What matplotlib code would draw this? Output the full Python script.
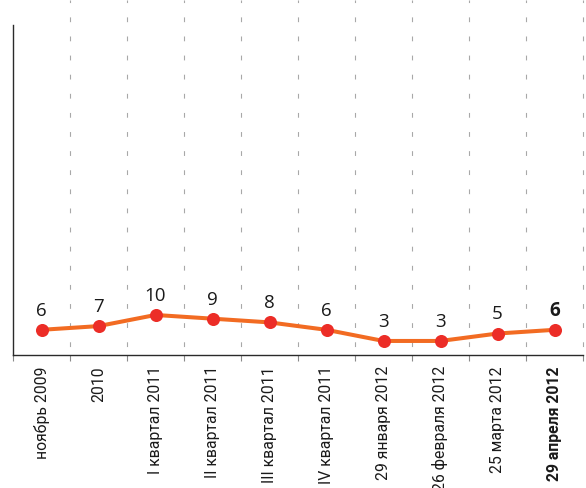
import matplotlib
matplotlib.use("Agg")
import matplotlib.pyplot as plt
import numpy as np

categories = ["ноябрь 2009", "2010", "I квартал 2011", "II квартал 2011",
              "III квартал 2011", "IV квартал 2011", "29 января 2012",
              "26 февраля 2012", "25 марта 2012", "29 апреля 2012"]
values = [6, 7, 10, 9, 8, 6, 3, 3, 5, 6]
value_labels = ["6", "7", "10", "9", "8", "6", "3", "3", "5", "6"]

fig = plt.figure(figsize=(5.86, 4.88), dpi=100)
ax = fig.add_axes([13/586, (488-355)/488, 570/586, 355/488])

x = np.arange(len(categories))
ax.set_xlim(-0.5, len(categories) - 0.5)
ax.set_ylim(-0.78, 94.8)

# dashed separators
for b in np.arange(0.5, len(categories), 1.0):
    ax.plot([b, b], [1.0, 0.0], transform=ax.get_xaxis_transform(),
            color="#a8a8a8", lw=0.8, linestyle=(2.0, (4.3, 12.9)),
            clip_on=False, zorder=1)

ax.plot(x, values, color="#f26b22", lw=2.9, zorder=3, solid_capstyle="round")
ax.plot(x, values, "o", color="#ec2d27", markersize=9.4, zorder=4,
        markeredgewidth=0)

for i, (v, lab) in enumerate(zip(values, value_labels)):
    ax.annotate(lab, (i, v), xytext=(0, 10.2), textcoords="offset points",
                ha="center", va="baseline", fontsize=13.5,
                family=["Open Sans", "DejaVu Sans"],
                fontweight="bold" if i == len(values) - 1 else "normal",
                color="#1a1a1a", zorder=5)

for s in ["top", "right"]:
    ax.spines[s].set_visible(False)
for s in ["left", "bottom"]:
    ax.spines[s].set_color("#2a2a2a")
    ax.spines[s].set_linewidth(1.0)
ax.spines["left"].set_bounds(-0.78, 88)

ax.set_yticks([])
ax.set_xticks(x)
ax.set_xticklabels(categories, rotation=90, fontsize=11.3,
                   family=["Roboto", "DejaVu Sans"],
                   color="#1a1a1a")
ax.get_xticklabels()[-1].set_fontweight("bold")
ax.tick_params(axis="x", which="major", length=0, pad=8)
ax.set_xticks(np.arange(-0.5, len(categories), 1.0), minor=True)
ax.tick_params(axis="x", which="minor", length=4.5, width=0.8,
               color="#8a8a8a", direction="out")

fig.savefig("out.png", dpi=100)
